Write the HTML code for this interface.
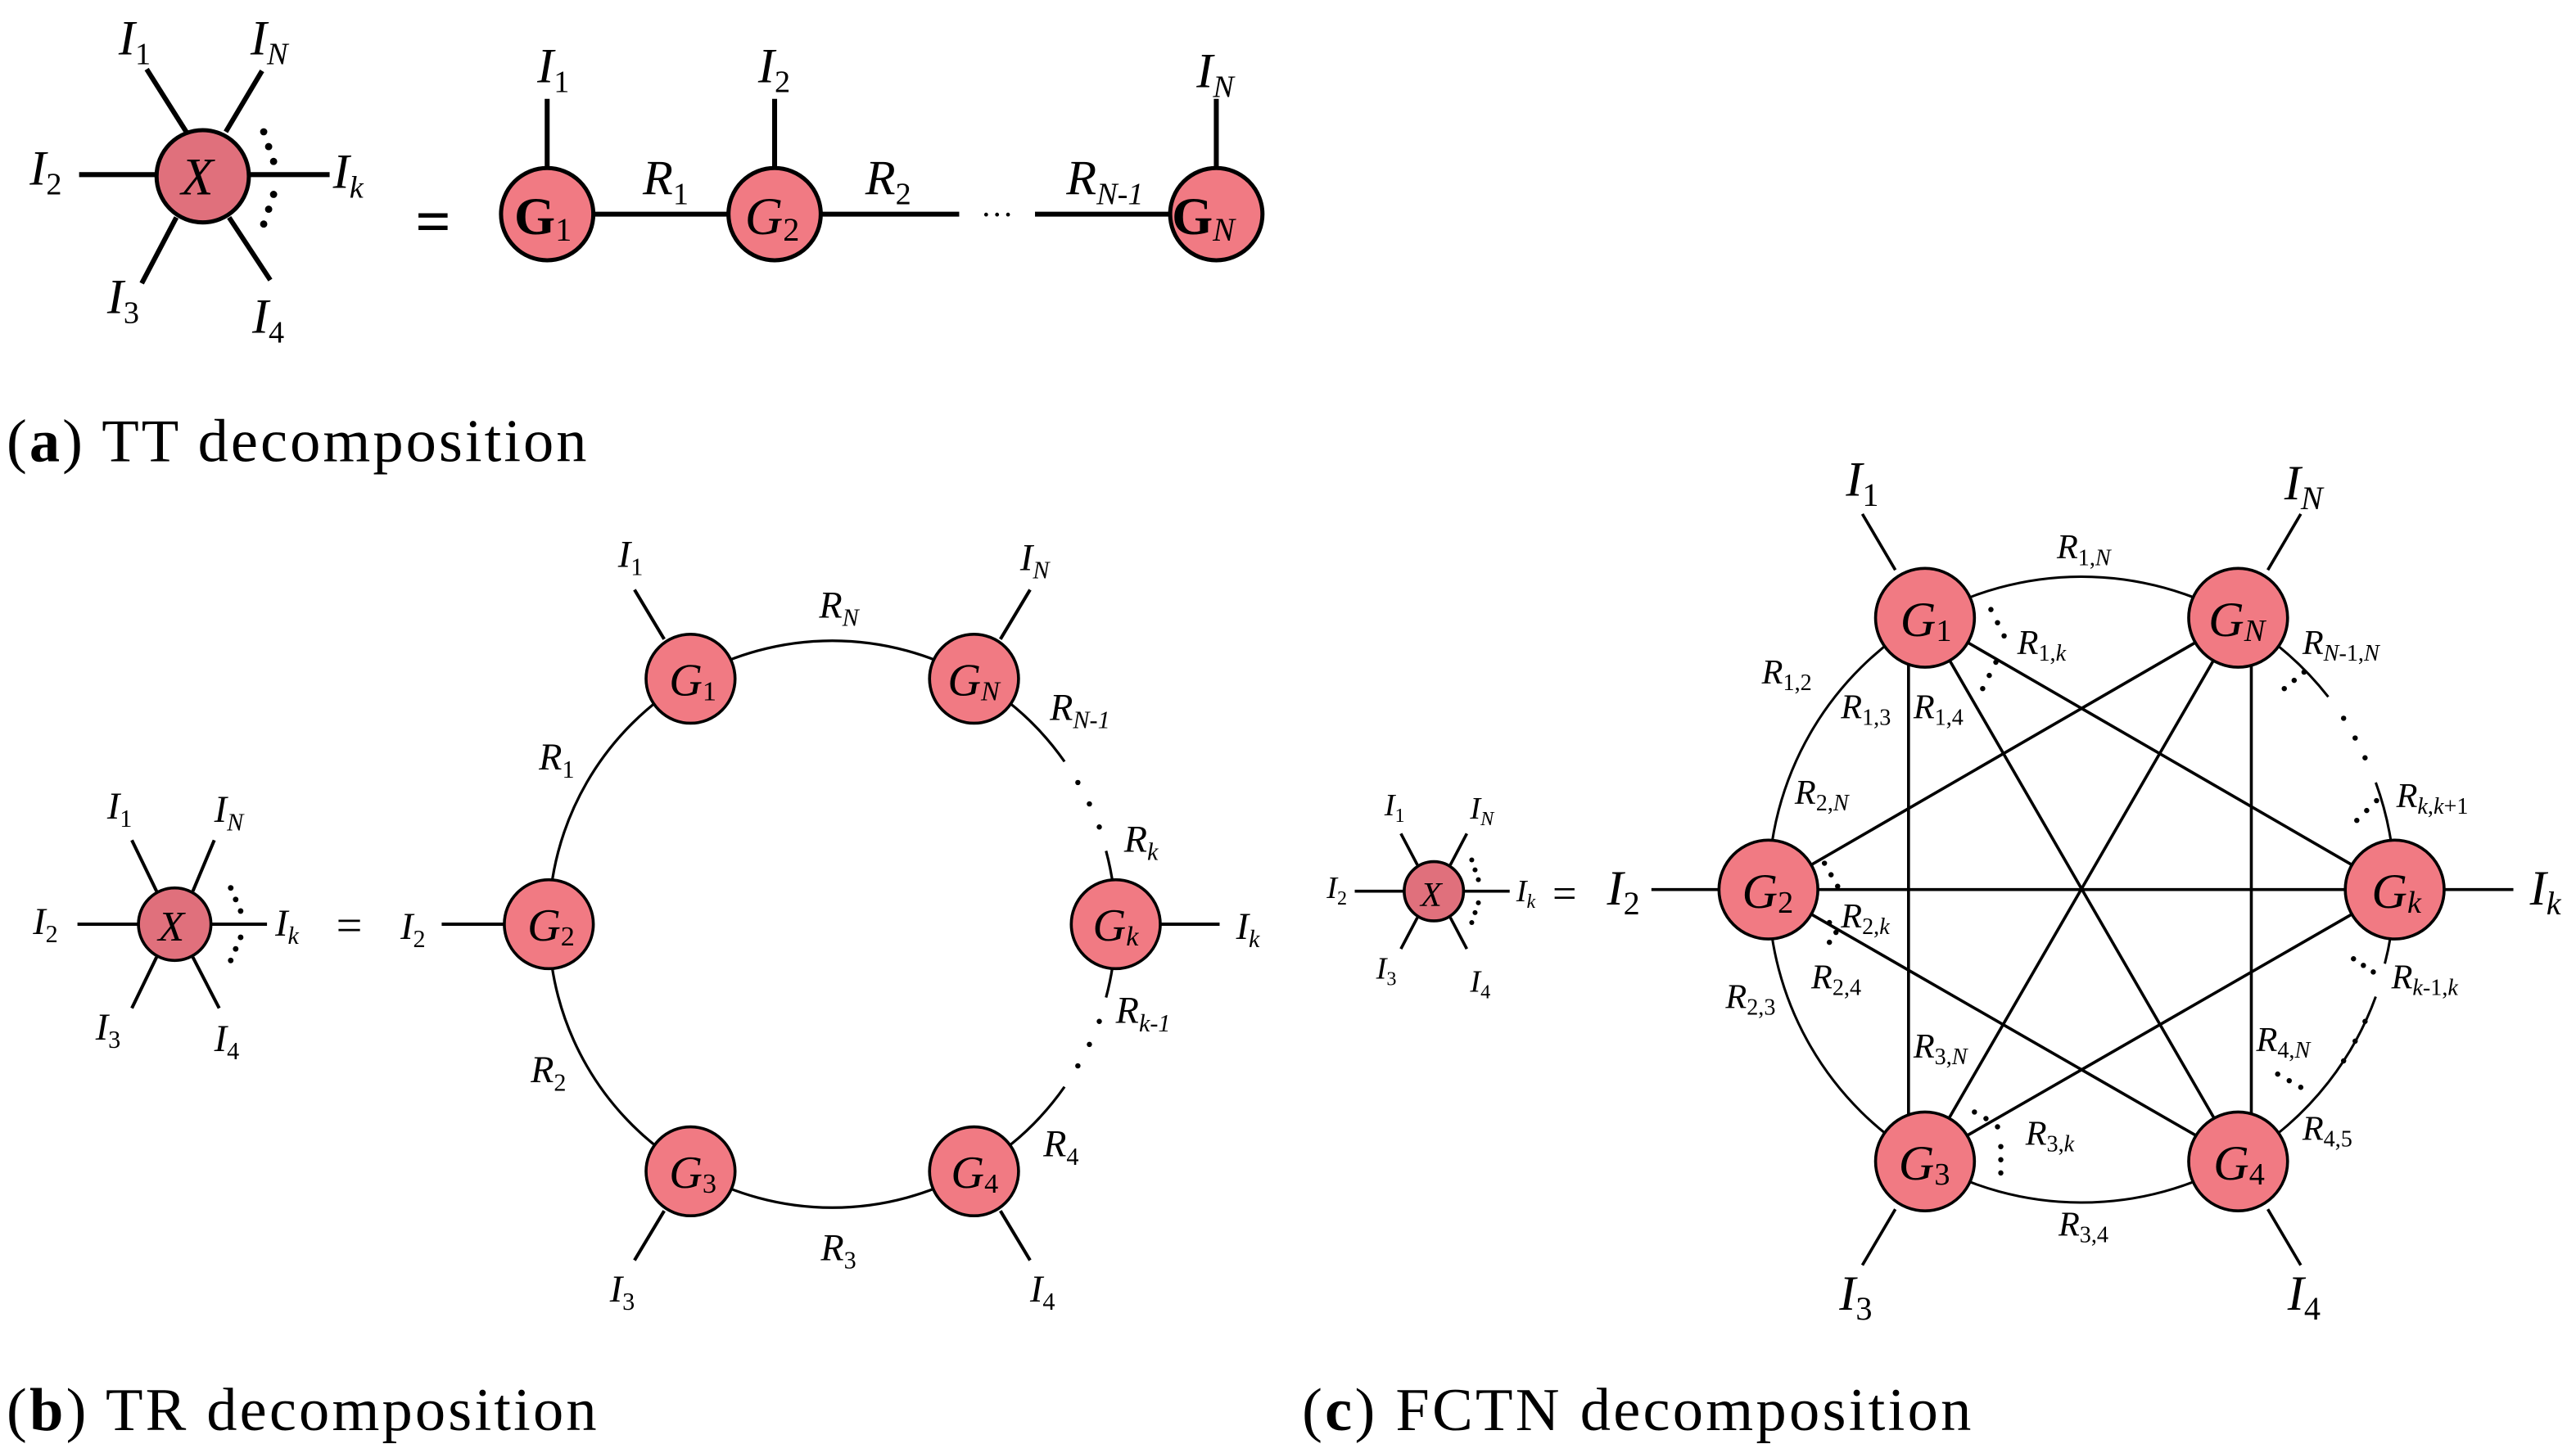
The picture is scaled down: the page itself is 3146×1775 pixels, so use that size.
<!DOCTYPE html>
<html><head><meta charset="utf-8"><style>
html,body{margin:0;padding:0;background:#fff;}
svg{display:block}
.t{font-family:"Liberation Serif",serif;font-style:italic;fill:#000}
.c{font-family:"Liberation Serif",serif;fill:#000}
</style></head><body>
<svg width="3146" height="1775" viewBox="0 0 1563 882" preserveAspectRatio="none" xmlns="http://www.w3.org/2000/svg">
<rect width="1563" height="882" fill="#fff"/>
<!-- Panel a -->
<g stroke="#000" stroke-width="3" fill="none">
<line x1="89" y1="42" x2="113" y2="80"/><line x1="159" y1="43" x2="137" y2="80"/>
<line x1="48" y1="106" x2="95" y2="106"/><line x1="151" y1="106" x2="200" y2="106"/>
<line x1="107" y1="132" x2="86" y2="172"/><line x1="139" y1="132" x2="164" y2="170"/>
<line x1="332" y1="60" x2="332" y2="102"/><line x1="470" y1="60" x2="470" y2="102"/><line x1="738" y1="60" x2="738" y2="102"/>
<line x1="360" y1="130" x2="442" y2="130"/><line x1="498" y1="130" x2="582" y2="130"/><line x1="628" y1="130" x2="710" y2="130"/>
</g>
<g fill="#000"><circle cx="160" cy="80" r="2.2"/><circle cx="163" cy="89" r="2.2"/><circle cx="166" cy="98" r="2.2"/>
<circle cx="166" cy="118" r="2.2"/><circle cx="163" cy="127" r="2.2"/><circle cx="160" cy="136" r="2.2"/></g>
<g stroke="#000" stroke-width="2.5">
<circle cx="123" cy="107" r="28" fill="#e0707c"/>
<circle cx="332" cy="130" r="28" fill="#f17a83"/><circle cx="470" cy="130" r="28" fill="#f17a83"/><circle cx="738" cy="130" r="28" fill="#f17a83"/>
</g>
<text class="t" x="110" y="118" font-size="32">X</text>
<text class="c" x="312" y="142" font-size="32" font-weight="bold">G<tspan font-size="20" font-weight="normal" dy="4">1</tspan></text>
<text class="t" x="452" y="142" font-size="32">G<tspan font-size="20" font-style="normal" dy="4">2</tspan></text>
<text class="c" x="711" y="142" font-size="32" font-weight="bold">G<tspan font-size="20" font-weight="normal" font-style="italic" dy="4">N</tspan></text>
<g class="t" font-size="30">
<text x="72" y="33">I<tspan font-size="19" font-style="normal" dy="6">1</tspan></text>
<text x="152" y="33">I<tspan font-size="19" dy="6">N</tspan></text>
<text x="18" y="112">I<tspan font-size="19" font-style="normal" dy="6">2</tspan></text>
<text x="202" y="114">I<tspan font-size="19" dy="6">k</tspan></text>
<text x="65" y="190">I<tspan font-size="19" font-style="normal" dy="6">3</tspan></text>
<text x="153" y="202">I<tspan font-size="19" font-style="normal" dy="6">4</tspan></text>
<text x="326" y="50">I<tspan font-size="19" font-style="normal" dy="6">1</tspan></text>
<text x="460" y="50">I<tspan font-size="19" font-style="normal" dy="6">2</tspan></text>
<text x="726" y="53">I<tspan font-size="19" dy="6">N</tspan></text>
<text x="390" y="118">R<tspan font-size="19" font-style="normal" dy="6">1</tspan></text>
<text x="525" y="118">R<tspan font-size="19" font-style="normal" dy="6">2</tspan></text>
<text x="647" y="118">R<tspan font-size="19" dy="6">N-1</tspan></text>
</g>
<text class="c" x="252" y="147" font-size="38" font-weight="bold">=</text>
<text class="c" x="595" y="137" font-size="20">···</text>
<text class="c" x="4" y="280" font-size="37" textLength="352">(<tspan font-weight="bold">a</tspan>) TT decomposition</text>

<!-- Panel b -->
<g stroke="#000" stroke-width="2" fill="none">
<line x1="80" y1="510" x2="95" y2="541"/><line x1="130" y1="510" x2="117" y2="541"/>
<line x1="95" y1="581" x2="80" y2="612"/><line x1="117" y1="581" x2="133" y2="612"/>
<line x1="47" y1="561" x2="84" y2="561"/><line x1="128" y1="561" x2="162" y2="561"/>
<line x1="268" y1="561" x2="306" y2="561"/><line x1="704" y1="561" x2="740" y2="561"/>
<line x1="403" y1="388" x2="385" y2="358"/><line x1="607" y1="388" x2="625" y2="358"/>
<line x1="403" y1="735" x2="385" y2="765"/><line x1="607" y1="735" x2="625" y2="765"/>
<path stroke-width="1.6" d="M333 561 A172 172 0 0 1 419 412 M419 412 A172 172 0 0 1 591 412 M591 412 A172 172 0 0 1 645.9 462.3 M671.1 516.5 A172 172 0 0 1 677 561 A172 172 0 0 1 671.1 605.5 M645.9 659.7 A172 172 0 0 1 591 710 A172 172 0 0 1 419 710 A172 172 0 0 1 333 561"/>
</g>
<g fill="#000"><circle cx="654" cy="475" r="1.6"/><circle cx="661" cy="488" r="1.6"/><circle cx="667" cy="502" r="1.6"/>
<circle cx="667" cy="620" r="1.6"/><circle cx="661" cy="634" r="1.6"/><circle cx="654" cy="647" r="1.6"/>
<circle cx="140" cy="539" r="1.7"/><circle cx="143" cy="546" r="1.7"/><circle cx="146" cy="553" r="1.7"/>
<circle cx="146" cy="569" r="1.7"/><circle cx="143" cy="576" r="1.7"/><circle cx="140" cy="583" r="1.7"/></g>
<g stroke="#000" stroke-width="1.8" fill="#f17a83">
<circle cx="106" cy="561" r="22" fill="#e0707c"/>
<circle cx="333" cy="561" r="27"/><circle cx="419" cy="412" r="27"/><circle cx="591" cy="412" r="27"/>
<circle cx="677" cy="561" r="27"/><circle cx="419" cy="711" r="27"/><circle cx="591" cy="711" r="27"/>
</g>
<g class="t" font-size="28">
<text x="96" y="571" font-size="26">X</text>
<text x="320" y="571">G<tspan font-size="17" font-style="normal" dy="3">2</tspan></text>
<text x="406" y="422">G<tspan font-size="17" font-style="normal" dy="3">1</tspan></text>
<text x="575" y="422">G<tspan font-size="17" dy="3">N</tspan></text>
<text x="663" y="571">G<tspan font-size="17" dy="3">k</tspan></text>
<text x="406" y="721">G<tspan font-size="17" font-style="normal" dy="3">3</tspan></text>
<text x="577" y="721">G<tspan font-size="17" dy="3" font-style="normal">4</tspan></text>
</g>
<g class="t" font-size="23">
<text x="65" y="497">I<tspan font-size="15" font-style="normal" dy="5">1</tspan></text>
<text x="130" y="499">I<tspan font-size="15" dy="5">N</tspan></text>
<text x="20" y="567">I<tspan font-size="15" font-style="normal" dy="5">2</tspan></text>
<text x="167" y="568">I<tspan font-size="15" dy="5">k</tspan></text>
<text x="58" y="631">I<tspan font-size="15" font-style="normal" dy="5">3</tspan></text>
<text x="130" y="638">I<tspan font-size="15" font-style="normal" dy="5">4</tspan></text>
<text x="243" y="570">I<tspan font-size="15" font-style="normal" dy="5">2</tspan></text>
<text x="750" y="570">I<tspan font-size="15" dy="5">k</tspan></text>
<text x="375" y="344">I<tspan font-size="15" font-style="normal" dy="5">1</tspan></text>
<text x="619" y="346">I<tspan font-size="15" dy="5">N</tspan></text>
<text x="370" y="790">I<tspan font-size="15" font-style="normal" dy="5">3</tspan></text>
<text x="625" y="790">I<tspan font-size="15" font-style="normal" dy="5">4</tspan></text>
<text x="497" y="375">R<tspan font-size="15" dy="5">N</tspan></text>
<text x="327" y="467">R<tspan font-size="15" font-style="normal" dy="5">1</tspan></text>
<text x="322" y="657">R<tspan font-size="15" font-style="normal" dy="5">2</tspan></text>
<text x="498" y="765">R<tspan font-size="15" font-style="normal" dy="5">3</tspan></text>
<text x="633" y="702">R<tspan font-size="15" font-style="normal" dy="5">4</tspan></text>
<text x="682" y="517">R<tspan font-size="15" dy="5">k</tspan></text>
<text x="677" y="621">R<tspan font-size="15" dy="5">k-1</tspan></text>
<text x="637" y="437">R<tspan font-size="15" dy="5">N-1</tspan></text>
</g>
<text class="c" x="204" y="571" font-size="28">=</text>
<text class="c" x="4" y="868" font-size="37" textLength="358">(<tspan font-weight="bold">b</tspan>) TR decomposition</text>

<!-- Panel c -->
<g stroke="#000" stroke-width="1.8" fill="none">
<line x1="850" y1="506" x2="860" y2="525"/><line x1="890" y1="506" x2="880" y2="525"/>
<line x1="860" y1="557" x2="850" y2="576"/><line x1="880" y1="557" x2="890" y2="576"/>
<line x1="822" y1="541" x2="852" y2="541"/><line x1="888" y1="541" x2="916" y2="541"/>
<line x1="1002" y1="540" x2="1043" y2="540"/><line x1="1483" y1="540" x2="1525" y2="540"/>
<line x1="1150" y1="346" x2="1130" y2="312"/><line x1="1376" y1="346" x2="1396" y2="312"/>
<line x1="1150" y1="734" x2="1130" y2="768"/><line x1="1376" y1="734" x2="1396" y2="768"/>
<line x1="1158" y1="375" x2="1158" y2="705"/><line x1="1366" y1="375" x2="1366" y2="705"/>
<line x1="1168" y1="375" x2="1453" y2="540"/><line x1="1168" y1="375" x2="1358" y2="704"/>
<line x1="1073" y1="540" x2="1358" y2="375"/><line x1="1073" y1="540" x2="1453" y2="540"/>
<line x1="1073" y1="540" x2="1358" y2="704"/><line x1="1358" y1="375" x2="1168" y2="704"/>
<line x1="1168" y1="704" x2="1453" y2="540"/>
<path stroke-width="1.5" d="M1073 540 A190 190 0 0 1 1168 375.5 A190 190 0 0 1 1358 375.5 A190 190 0 0 1 1412.7 423 M1441.5 475 A190 190 0 0 1 1453 540 M1441.5 605 A190 190 0 0 1 1412.7 657 M1358 704.5 A190 190 0 0 1 1168 704.5 A190 190 0 0 1 1073 540"/>
<path stroke-width="1.5" d="M1453 540 A190 190 0 0 1 1447 585 M1412.7 657 A190 190 0 0 1 1358 704.5"/>
</g>
<g fill="#000">
<circle cx="1422" cy="436" r="1.6"/><circle cx="1429" cy="448" r="1.6"/><circle cx="1435" cy="460" r="1.6"/>
<circle cx="1435" cy="620" r="1.6"/><circle cx="1429" cy="632" r="1.6"/><circle cx="1422" cy="644" r="1.6"/>
<circle cx="893" cy="522" r="1.5"/><circle cx="895" cy="528" r="1.5"/><circle cx="897" cy="534" r="1.5"/>
<circle cx="897" cy="548" r="1.5"/><circle cx="895" cy="554" r="1.5"/><circle cx="893" cy="560" r="1.5"/>
<circle cx="1208" cy="370" r="1.6"/><circle cx="1212" cy="378" r="1.6"/><circle cx="1216" cy="386" r="1.6"/>
<circle cx="1203" cy="418" r="1.6"/><circle cx="1207" cy="410" r="1.6"/><circle cx="1211" cy="402" r="1.6"/>
<circle cx="1386" cy="418" r="1.6"/><circle cx="1392" cy="413" r="1.6"/><circle cx="1398" cy="408" r="1.6"/>
<circle cx="1107" cy="524" r="1.6"/><circle cx="1111" cy="531" r="1.6"/><circle cx="1115" cy="538" r="1.6"/>
<circle cx="1110" cy="560" r="1.6"/><circle cx="1114" cy="566" r="1.6"/><circle cx="1110" cy="572" r="1.6"/>
<circle cx="1430" cy="498" r="1.6"/><circle cx="1436" cy="492" r="1.6"/><circle cx="1442" cy="486" r="1.6"/>
<circle cx="1428" cy="582" r="1.6"/><circle cx="1434" cy="586" r="1.6"/><circle cx="1440" cy="590" r="1.6"/>
<circle cx="1198" cy="675" r="1.6"/><circle cx="1205" cy="679" r="1.6"/><circle cx="1212" cy="684" r="1.6"/>
<circle cx="1214" cy="696" r="1.6"/><circle cx="1214" cy="704" r="1.6"/><circle cx="1214" cy="712" r="1.6"/>
<circle cx="1382" cy="652" r="1.6"/><circle cx="1389" cy="656" r="1.6"/><circle cx="1396" cy="660" r="1.6"/>
</g>
<g stroke="#000" stroke-width="1.8" fill="#f17a83">
<circle cx="870" cy="541" r="18" fill="#e0707c"/>
<circle cx="1073" cy="540" r="30"/><circle cx="1168" cy="375" r="30"/><circle cx="1358" cy="375" r="30"/>
<circle cx="1453" cy="540" r="30"/><circle cx="1168" cy="705" r="30"/><circle cx="1358" cy="705" r="30"/>
</g>
<g class="t" font-size="30">
<text x="862" y="550" font-size="21">X</text>
<text x="1057" y="551">G<tspan font-size="19" font-style="normal" dy="3">2</tspan></text>
<text x="1153" y="386">G<tspan font-size="19" font-style="normal" dy="3">1</tspan></text>
<text x="1340" y="386">G<tspan font-size="19" dy="3">N</tspan></text>
<text x="1439" y="551">G<tspan font-size="19" dy="3">k</tspan></text>
<text x="1152" y="716">G<tspan font-size="19" font-style="normal" dy="3">3</tspan></text>
<text x="1343" y="716">G<tspan font-size="19" font-style="normal" dy="3">4</tspan></text>
</g>
<g class="t" font-size="19">
<text x="840" y="495">I<tspan font-size="12" font-style="normal" dy="4">1</tspan></text>
<text x="892" y="497">I<tspan font-size="12" dy="4">N</tspan></text>
<text x="805" y="545">I<tspan font-size="12" font-style="normal" dy="4">2</tspan></text>
<text x="920" y="547">I<tspan font-size="12" dy="4">k</tspan></text>
<text x="835" y="594">I<tspan font-size="12" font-style="normal" dy="4">3</tspan></text>
<text x="892" y="602">I<tspan font-size="12" font-style="normal" dy="4">4</tspan></text>
</g>
<text class="c" x="942" y="551" font-size="26">=</text>
<g class="t" font-size="30">
<text x="975" y="549">I<tspan font-size="20" font-style="normal" dy="6">2</tspan></text>
<text x="1535" y="549">I<tspan font-size="20" dy="6">k</tspan></text>
<text x="1120" y="301">I<tspan font-size="20" font-style="normal" dy="6">1</tspan></text>
<text x="1386" y="303">I<tspan font-size="20" dy="6">N</tspan></text>
<text x="1116" y="795">I<tspan font-size="20" font-style="normal" dy="6">3</tspan></text>
<text x="1388" y="795">I<tspan font-size="20" font-style="normal" dy="6">4</tspan></text>
</g>
<g class="t" font-size="21">
<text x="1248" y="339">R<tspan font-size="14" font-style="normal" dy="4">1,</tspan><tspan font-size="14">N</tspan></text>
<text x="1224" y="397">R<tspan font-size="14" font-style="normal" dy="4">1,</tspan><tspan font-size="14">k</tspan></text>
<text x="1397" y="397">R<tspan font-size="14" dy="4">N</tspan><tspan font-size="14" font-style="normal">-1,</tspan><tspan font-size="14">N</tspan></text>
<text x="1069" y="415">R<tspan font-size="14" font-style="normal" dy="4">1,2</tspan></text>
<text x="1117" y="436">R<tspan font-size="14" font-style="normal" dy="4">1,3</tspan></text>
<text x="1161" y="436">R<tspan font-size="14" font-style="normal" dy="4">1,4</tspan></text>
<text x="1089" y="488">R<tspan font-size="14" font-style="normal" dy="4">2,</tspan><tspan font-size="14">N</tspan></text>
<text x="1454" y="490">R<tspan font-size="14" dy="4">k</tspan><tspan font-size="14" font-style="normal">,</tspan><tspan font-size="14">k</tspan><tspan font-size="14" font-style="normal">+1</tspan></text>
<text x="1117" y="563">R<tspan font-size="14" font-style="normal" dy="4">2,</tspan><tspan font-size="14">k</tspan></text>
<text x="1451" y="600">R<tspan font-size="14" dy="4">k</tspan><tspan font-size="14" font-style="normal">-1,</tspan><tspan font-size="14">k</tspan></text>
<text x="1099" y="600">R<tspan font-size="14" font-style="normal" dy="4">2,4</tspan></text>
<text x="1047" y="612">R<tspan font-size="14" font-style="normal" dy="4">2,3</tspan></text>
<text x="1161" y="642">R<tspan font-size="14" font-style="normal" dy="4">3,</tspan><tspan font-size="14">N</tspan></text>
<text x="1369" y="638">R<tspan font-size="14" font-style="normal" dy="4">4,</tspan><tspan font-size="14">N</tspan></text>
<text x="1229" y="695">R<tspan font-size="14" font-style="normal" dy="4">3,</tspan><tspan font-size="14">k</tspan></text>
<text x="1397" y="692">R<tspan font-size="14" font-style="normal" dy="4">4,5</tspan></text>
<text x="1249" y="750">R<tspan font-size="14" font-style="normal" dy="4">3,4</tspan></text>
</g>
<text class="c" x="790" y="868" font-size="37" textLength="406">(<tspan font-weight="bold">c</tspan>) FCTN decomposition</text>
</svg>
</body></html>
